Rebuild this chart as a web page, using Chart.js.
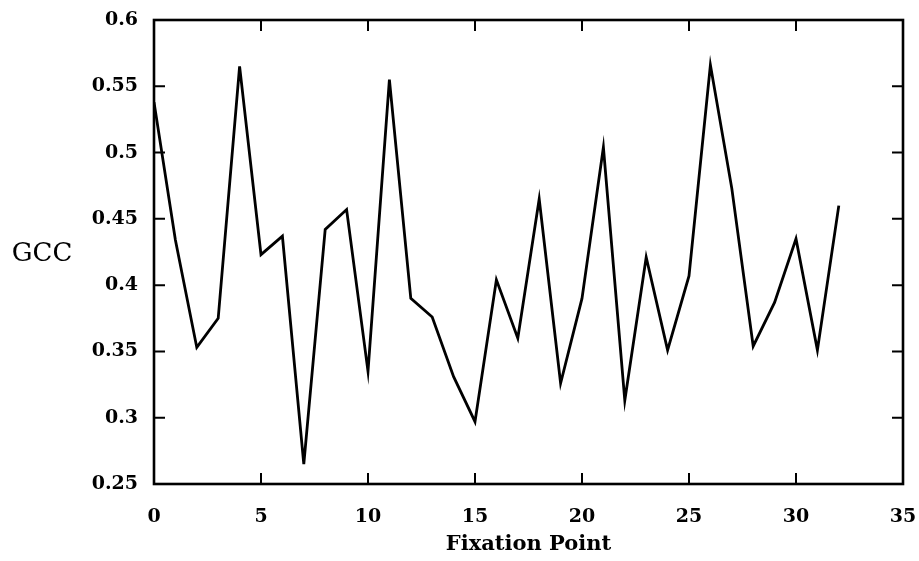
<!DOCTYPE html>
<html>
<head>
<meta charset="utf-8">
<script src="https://cdn.jsdelivr.net/npm/chart.js@4.4.1/dist/chart.umd.min.js"></script>
<style>
  html, body { margin: 0; padding: 0; background: #fff; }
  #wrap { width: 919px; height: 561px; }
</style>
</head>
<body>
<div id="wrap"><canvas id="myChart" width="919" height="561"></canvas></div>
<script>
// fixation index and GCC measured at each one
var fixationPoints = [0, 1, 2, 3, 4, 5, 6, 7, 8, 9, 10, 11, 12, 13, 14, 15, 16,
    17, 18, 19, 20, 21, 22, 23, 24, 25, 26, 27, 28, 29, 30, 31, 32];
var gccValues = [0.538, 0.434, 0.353, 0.375, 0.565, 0.423, 0.437, 0.265, 0.442,
    0.457, 0.335, 0.555, 0.390, 0.376, 0.331, 0.297, 0.404, 0.360, 0.465,
    0.326, 0.390, 0.504, 0.313, 0.421, 0.351, 0.407, 0.566, 0.473, 0.354,
    0.387, 0.435, 0.351, 0.460];
var xTicks = [0, 5, 10, 15, 20, 25, 30, 35];
var yTicks = [0.25, 0.3, 0.35, 0.4, 0.45, 0.5, 0.55, 0.6];

var points = fixationPoints.map(function (x, i) { return { x: x, y: gccValues[i] }; });

var serif = '"DejaVu Serif", "Liberation Serif", serif';

// box round the plot, inward ticks on all four sides, horizontal y title
var framePlugin = {
    id: 'frame',
    afterDraw: function (chart) {
        var ctx = chart.ctx;
        var a = chart.chartArea;
        var xs = chart.scales.x, ys = chart.scales.y;
        var len = 11;
        ctx.save();
        ctx.strokeStyle = '#000';
        ctx.lineWidth = 2.6;
        ctx.strokeRect(a.left, a.top, a.right - a.left, a.bottom - a.top);
        ctx.lineWidth = 2;
        ctx.beginPath();
        xTicks.slice(1, -1).forEach(function (v) {
            var px = xs.getPixelForValue(v);
            ctx.moveTo(px, a.bottom); ctx.lineTo(px, a.bottom - len);
            ctx.moveTo(px, a.top); ctx.lineTo(px, a.top + len);
        });
        yTicks.slice(1, -1).forEach(function (v) {
            var py = ys.getPixelForValue(v);
            ctx.moveTo(a.left, py); ctx.lineTo(a.left + len, py);
            ctx.moveTo(a.right, py); ctx.lineTo(a.right - len, py);
        });
        ctx.stroke();

        ctx.fillStyle = '#000';
        ctx.font = '26px ' + serif;
        ctx.textAlign = 'center';
        ctx.textBaseline = 'middle';
        ctx.fillText('GCC', 42, (a.top + a.bottom) / 2 + 2);
        ctx.restore();
    }
};

var ctx = document.getElementById('myChart').getContext('2d');
var myChart = new Chart(ctx, {
    type: 'line',
    data: {
        datasets: [{
            label: 'GCC',
            data: points,
            borderColor: '#000',
            backgroundColor: 'transparent',
            borderWidth: 2.8,
            pointRadius: 0,
            tension: 0
        }]
    },
    options: {
        responsive: false,
        animation: false,
        layout: { padding: { top: 20, right: 16, left: 0, bottom: 0 } },
        plugins: {
            legend: { display: false },
            tooltip: { enabled: false }
        },
        scales: {
            x: {
                type: 'linear',
                min: 0,
                max: 35,
                afterFit: function (scale) {
                    scale.height = 77;
                    scale.paddingLeft = 0;
                    scale.paddingRight = 0;
                },
                afterBuildTicks: function (scale) {
                    scale.ticks = xTicks.map(function (v) { return { value: v }; });
                },
                grid: { display: false, drawTicks: false },
                border: { display: false },
                ticks: {
                    padding: 22,
                    color: '#000',
                    font: { family: serif, size: 19, weight: 'bold' }
                },
                title: {
                    display: true,
                    text: 'Fixation Point',
                    color: '#000',
                    padding: { top: 0 },
                    font: { family: serif, size: 21, weight: 'bold' }
                }
            },
            y: {
                min: 0.25,
                max: 0.6,
                afterFit: function (scale) {
                    scale.width = 154;
                    scale.paddingTop = 0;
                    scale.paddingBottom = 0;
                },
                afterBuildTicks: function (scale) {
                    scale.ticks = yTicks.map(function (v) { return { value: v }; });
                },
                grid: { display: false, drawTicks: false },
                border: { display: false },
                ticks: {
                    padding: 16,
                    color: '#000',
                    font: { family: serif, size: 19, weight: 'bold' },
                    callback: function (v) { return String(Number(v.toFixed(2))); }
                }
            }
        }
    },
    plugins: [framePlugin]
});
</script>
</body>
</html>
